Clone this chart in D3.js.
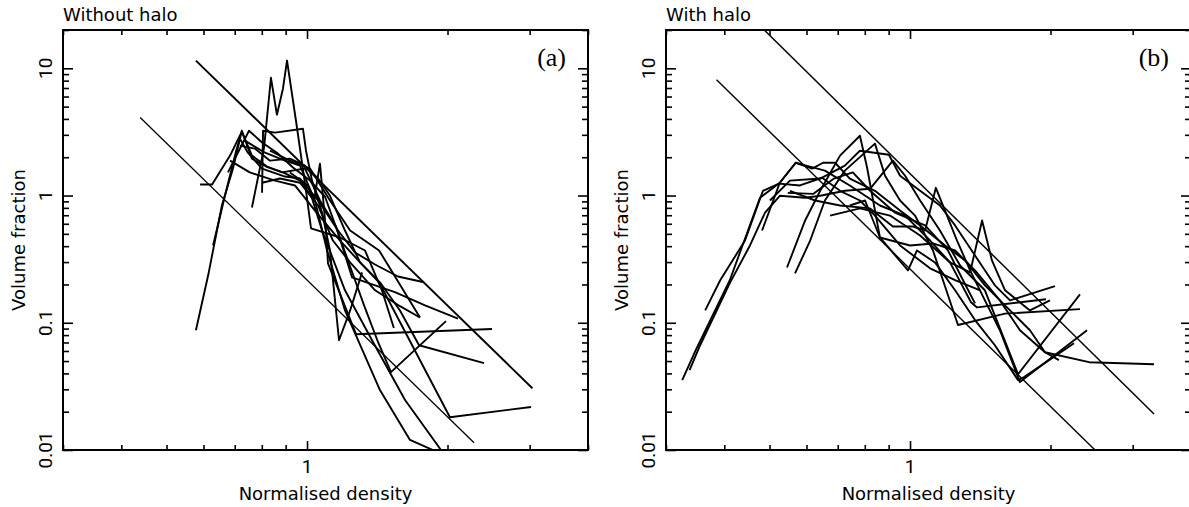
<!DOCTYPE html>
<html><head><meta charset="utf-8">
<script src="https://cdn.jsdelivr.net/npm/d3@7"></script>
<style>body{margin:0;background:#fff}svg{display:block}</style>
</head><body>
<svg id="c" width="1189" height="507"></svg>
<script>
// ---------- data ----------
const xDomain = [0.3, 4];
const yDomain = [0.01, 20];
const xMajorTicks = [1];
const xMinorTicks = [0.3,0.4,0.5,0.6,0.7,0.8,0.9,2,3,4];
const yMajorTicks = [0.01,0.1,1,10];
const yMinorTicks = [0.02,0.03,0.04,0.05,0.06,0.07,0.08,0.09,0.2,0.3,0.4,0.5,0.6,0.7,0.8,0.9,2,3,4,5,6,7,8,9,20];
const xTickLabels = ["1"];
const yTickLabels = ["0.01","0.1","1","10"];
const panelTitles = ["Without halo","With halo"];
const panelTags = ["(a)","(b)"];
const xTitle = "Normalised density";
const yTitle = "Volume fraction";

// panel (a): without halo
const seriesA = [
 [[0.578,0.0873],[0.614,0.236],[0.657,0.835],[0.694,1.63],[0.725,3.23],[0.762,1.95],[0.817,1.69],[0.888,1.52],[0.966,1.31],[1.056,0.835],[1.136,0.443],[1.237,0.298],[1.399,0.180],[1.582,0.135],[1.746,0.110]],
 [[0.629,0.405],[0.667,0.996],[0.705,2.25],[0.718,2.80],[0.747,2.17],[0.801,1.63],[0.897,1.41],[0.966,1.36],[1.056,0.914],[1.165,0.531],[1.267,0.357],[1.399,0.287],[1.566,0.231],[1.781,0.208]],
 [[0.590,1.22],[0.626,1.22],[0.684,2.06],[0.725,3.17],[0.762,2.06],[0.821,1.69],[0.884,1.52],[0.990,1.63],[1.066,0.914],[1.154,0.571],[1.249,0.227],[1.399,0.197],[1.543,0.174],[1.790,0.137],[2.106,0.108]],
 [[0.762,0.805],[0.809,2.38],[0.837,8.42],[0.862,4.32],[0.888,6.91],[0.906,11.5],[0.947,3.87],[0.995,1.09],[1.020,0.552],[1.177,0.468],[1.331,0.370],[1.447,0.180],[1.535,0.0909]],
 [[0.677,1.52],[0.751,3.23],[0.801,2.61],[0.862,2.17],[0.933,1.66],[1.015,1.31],[1.093,0.978],[1.165,0.512],[1.237,0.277],[1.325,0.137],[1.420,0.0703],[1.513,0.0409],[1.985,0.103]],
 [[0.801,1.05],[0.805,3.23],[0.854,3.12],[0.980,3.35],[0.995,2.25],[1.025,1.31],[1.077,0.735],[1.120,0.370],[1.148,0.150],[1.171,0.0729],[1.237,0.125],[1.312,0.249]],
 [[0.718,2.47],[0.773,2.34],[0.833,1.88],[0.919,1.95],[0.990,1.72],[1.056,1.36],[1.120,0.996],[1.206,0.531],[1.299,0.298],[1.433,0.208],[1.582,0.125],[1.738,0.0666],[2.395,0.0481]],
 [[0.801,1.26],[0.875,1.36],[0.966,1.26],[1.035,0.914],[1.066,1.78],[1.098,0.531],[1.109,0.293],[1.274,0.0812],[2.491,0.0893]],
 [[0.684,1.88],[0.754,1.52],[0.854,1.31],[0.942,1.20],[1.040,0.762],[1.177,0.443],[1.299,0.298],[1.427,0.208],[2.024,0.0181],[3.020,0.0218]],
 [[0.736,2.70],[0.813,2.17],[0.897,1.88],[0.966,1.72],[1.040,0.914],[1.104,0.370],[1.206,0.125],[1.433,0.0296],[1.662,0.0120],[1.966,0.00914]],
 [[0.833,2.25],[0.919,1.88],[1.015,1.63],[1.120,0.914],[1.237,0.531],[1.427,0.370],[1.746,0.110]],
 [[0.919,1.52],[1.005,1.20],[1.077,0.531],[1.206,0.180],[1.378,0.0729],[1.622,0.0247],[1.937,0.01],[1.985,0.00866]]
];
const refA = [
 [[0.578,11.5],[3.04,0.0306]],
 [[0.439,4.11],[2.28,0.0114]]
];

// panel (b): with halo
const seriesB = [
 [[0.325,0.0354],[0.349,0.0631],[0.411,0.216],[0.477,0.960],[0.526,1.26],[0.569,1.81],[0.599,1.72],[0.657,1.57],[0.743,1.20],[0.862,0.835],[0.976,0.696],[1.104,0.443],[1.218,0.298],[1.351,0.145],[1.392,0.132],[1.956,0.153]],
 [[0.337,0.0424],[0.355,0.0666],[0.411,0.205],[0.454,0.405],[0.489,0.735],[0.526,0.996],[0.596,0.960],[0.642,0.996],[0.725,1.09],[0.821,1.13],[0.919,1.88],[0.976,1.43],[1.051,0.914],[1.159,0.531],[1.280,0.282],[1.447,0.180],[1.704,0.0394],[2.313,0.167]],
 [[0.482,0.531],[0.526,1.26],[0.569,1.81],[0.617,1.63],[0.651,1.81],[0.691,1.81],[0.743,1.36],[0.841,1.09],[0.952,0.762],[1.051,0.582],[1.189,0.405],[1.312,0.309],[1.447,0.197],[1.638,0.125],[1.807,0.0873],[1.946,0.0587],[2.085,0.0508]],
 [[0.545,0.272],[0.596,0.637],[0.642,1.09],[0.708,2.06],[0.781,2.95],[0.809,1.66],[0.862,0.468],[0.990,0.258],[1.035,0.370],[1.131,0.298],[1.249,0.180],[1.378,0.105],[1.520,0.0666],[1.704,0.0354],[1.755,0.0374],[2.246,0.0690]],
 [[0.567,0.244],[0.611,0.443],[0.657,0.914],[0.725,1.57],[0.841,2.56],[0.884,1.43],[0.952,0.914],[1.025,0.696],[1.120,0.370],[1.267,0.0960],[1.598,0.118],[2.313,0.128]],
 [[0.501,0.914],[0.553,1.31],[0.642,1.36],[0.725,1.72],[0.781,2.25],[0.901,2.09],[0.952,1.43],[1.051,1.09],[1.159,0.835],[1.249,0.582],[1.378,0.338],[1.520,0.197],[1.638,0.150],[2.045,0.194]],
 [[0.553,1.09],[0.626,0.914],[0.708,0.835],[0.821,0.792],[0.919,0.571],[1.015,0.571],[1.077,0.531],[1.136,1.15],[1.261,0.443],[1.345,0.258],[1.447,0.150],[1.558,0.0873],[1.720,0.0342],[2.395,0.0873]],
 [[0.743,0.835],[0.801,0.914],[0.862,0.468],[1.000,0.405],[1.120,0.420],[1.249,0.370],[1.378,0.258],[1.558,0.150],[1.720,0.0873],[1.946,0.0587],[2.419,0.0490],[3.333,0.0472]],
 [[0.674,0.696],[0.781,0.792],[0.906,0.696],[1.051,0.485],[1.218,0.298],[1.345,0.249],[1.427,0.637],[1.498,0.309],[1.598,0.180],[1.807,0.125],[1.995,0.150]],
 [[0.364,0.125],[0.392,0.216],[0.443,0.443],[0.484,1.09],[0.524,1.24],[0.581,1.20],[0.648,1.38],[0.708,1.09],[0.781,0.914],[0.841,0.696],[0.952,0.405],[1.104,0.268],[1.249,0.216],[1.413,0.180]],
 [[0.547,1.05],[0.620,1.03],[0.687,1.36],[0.754,1.52],[0.821,1.09],[0.928,0.735],[1.077,0.582],[1.206,0.370],[1.299,0.216],[1.378,0.142]]
];
const refB = [
 [[0.489,19.7],[3.333,0.0192]],
 [[0.385,8.13],[2.491,0.01]]
];

// ---------- drawing ----------
const svg = d3.select('#c');
const yTop = 30, yBottom = 450, pw = 525;
const panels = [
  {left: 63, data: seriesA, refs: refA, refW: [1.9, 1.3]},
  {left: 666, data: seriesB, refs: refB, refW: [1.5, 1.4]}
];
const sans = "'DejaVu Sans', sans-serif";

panels.forEach((p, i) => {
  const g = svg.append('g');
  const x = d3.scaleLog().domain(xDomain).range([p.left, p.left + pw]);
  const y = d3.scaleLog().domain(yDomain).range([yBottom, yTop]);

  const cid = 'clip' + i;
  svg.append('clipPath').attr('id', cid).append('rect')
    .attr('x', p.left).attr('y', yTop).attr('width', pw).attr('height', yBottom - yTop);

  const line = d3.line().x(d => x(d[0])).y(d => y(d[1]));
  const dg = g.append('g').attr('clip-path', `url(#${cid})`);
  dg.selectAll('path.s').data(p.data).join('path').attr('class', 's')
    .attr('d', line).attr('fill', 'none').attr('stroke', '#000')
    .attr('stroke-width', 1.9).attr('stroke-linejoin', 'round');
  dg.selectAll('path.r').data(p.refs).join('path').attr('class', 'r')
    .attr('d', line).attr('fill', 'none').attr('stroke', '#000')
    .attr('stroke-width', (d, j) => p.refW[j]);

  const mk = (axis, tr, vals, size) => g.append('g').attr('transform', tr)
    .call(axis.tickValues(vals).tickSize(size).tickSizeOuter(0).tickFormat(''))
    .call(a => a.select('.domain').remove())
    .call(a => a.selectAll('line').attr('stroke', '#000').attr('stroke-width', 1.6));
  mk(d3.axisBottom(x), `translate(0,${yBottom})`, xMajorTicks, -9);
  mk(d3.axisBottom(x), `translate(0,${yBottom})`, xMinorTicks, -5);
  mk(d3.axisTop(x), `translate(0,${yTop})`, xMajorTicks, -9);
  mk(d3.axisTop(x), `translate(0,${yTop})`, xMinorTicks, -5);
  mk(d3.axisLeft(y), `translate(${p.left},0)`, yMajorTicks, -10);
  mk(d3.axisLeft(y), `translate(${p.left},0)`, yMinorTicks, -6);
  mk(d3.axisRight(y), `translate(${p.left + pw},0)`, yMajorTicks, -10);
  mk(d3.axisRight(y), `translate(${p.left + pw},0)`, yMinorTicks, -6);

  g.append('rect').attr('x', p.left).attr('y', yTop).attr('width', pw).attr('height', yBottom - yTop)
    .attr('fill', 'none').attr('stroke', '#000').attr('stroke-width', 2);

  // tick labels
  xMajorTicks.forEach((v, k) => {
    g.append('text').attr('x', x(v)).attr('y', 473).attr('text-anchor', 'middle')
      .attr('font-family', "Roboto, sans-serif").attr('font-size', 19).text(xTickLabels[k]);
  });
  yMajorTicks.forEach((v, k) => {
    const lx = p.left - 11, ly = y(v);
    g.append('text').attr('x', lx).attr('y', ly).attr('text-anchor', 'middle')
      .attr('transform', `rotate(-90,${lx},${ly})`)
      .attr('font-family', "Roboto, sans-serif").attr('font-size', 19).text(yTickLabels[k]);
  });

  // titles
  g.append('text').attr('x', p.left).attr('y', 21).attr('font-family', sans)
    .attr('font-size', 18).text(panelTitles[i]);
  g.append('text').attr('x', p.left + 503).attr('y', 66).attr('text-anchor', 'end')
    .attr('font-family', "'Liberation Serif', serif").attr('font-size', 26).text(panelTags[i]);
  g.append('text').attr('x', p.left + pw / 2).attr('y', 500).attr('text-anchor', 'middle')
    .attr('font-family', sans).attr('font-size', 18).text(xTitle);
  const tx = p.left - 38, ty = (yTop + yBottom) / 2;
  g.append('text').attr('x', tx).attr('y', ty).attr('text-anchor', 'middle')
    .attr('transform', `rotate(-90,${tx},${ty})`)
    .attr('font-family', sans).attr('font-size', 18).text(yTitle);
});
</script>
</body></html>
